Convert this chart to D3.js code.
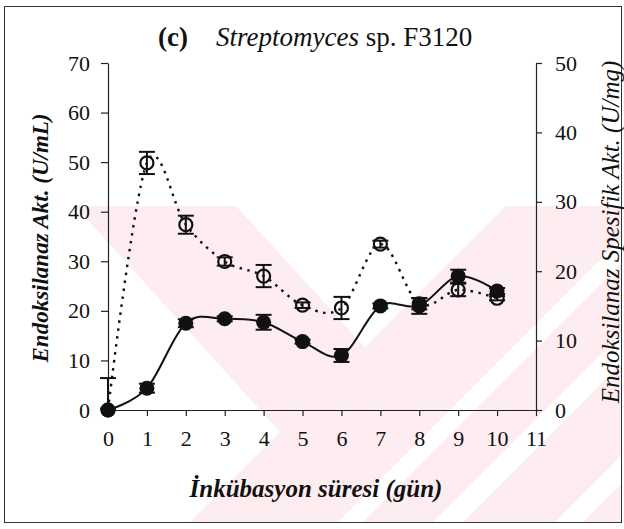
<!DOCTYPE html>
<meta charset="utf-8">
<style>
    body { margin: 0; background: #fff; }
    .axis path, .axis line { stroke: #222; stroke-width: 1.2; }
</style>
<svg width="624" height="529" font-family="'Liberation Serif', 'DejaVu Serif', serif"></svg>
<script src="https://d3js.org/d3.v7.min.js"></script>
<script>
    // incubation day
    var days = [0, 1, 2, 3, 4, 5, 6, 7, 8, 9, 10];
    // endoxylanase activity (U/mL), filled circles, left axis
    var activity    = [0, 4.4, 17.5, 18.4, 17.7, 13.8, 11.0, 21.0, 21.0, 27.0, 24.0];
    var activityErr = [0.3, 0.9, 0.8, 0.5, 1.5, 0.4, 1.3, 0.5, 1.6, 1.3, 0.6];
    // specific activity (U/mg), open circles, right axis
    var specific    = [0, 35.6, 26.7, 21.4, 19.3, 15.1, 14.7, 23.9, 15.3, 17.3, 16.1];
    var specificErr = [4.6, 1.6, 1.3, 0.6, 1.6, 0.4, 1.6, 0.5, 0.8, 0.9, 0.3];
    var xTicks = [0, 1, 2, 3, 4, 5, 6, 7, 8, 9, 10, 11];
    var leftTicks = [0, 10, 20, 30, 40, 50, 60, 70];
    var rightTicks = [0, 10, 20, 30, 40, 50];

    var svg = d3.select("svg");

    var x = d3.scaleLinear().domain([0, 11]).range([108, 536]),
        yL = d3.scaleLinear().domain([0, 70]).range([410, 63]),
        yR = d3.scaleLinear().domain([0, 50]).range([410, 63]);

    // faint pink watermark behind the chart
    var wm = svg.append("g");
    wm.append("rect").attr("x", 75).attr("y", 206).attr("width", 546).attr("height", 317).attr("fill", "#fdedf0");
    var whites = [
        [[236, 206], [506, 206], [365, 347]],
        [[75, 206], [280, 432], [189, 523], [75, 523]],
        [[621, 239], [621, 264], [362, 523], [337, 523]],
        [[621, 334], [621, 364], [462, 523], [432, 523]],
        [[621, 456], [621, 484], [582, 523], [554, 523]]
    ];
    wm.selectAll("polygon").data(whites).enter().append("polygon")
        .attr("points", function(d) { return d.join(" "); })
        .attr("fill", "#fff");

    // outer frame
    svg.append("rect").attr("x", 4.5).attr("y", 6.5).attr("width", 617).attr("height", 516)
        .attr("fill", "none").attr("stroke", "#333").attr("stroke-width", 1);

    // title
    var title = svg.append("text").attr("y", 46).attr("font-size", 27).attr("fill", "#111");
    title.append("tspan").attr("x", 158).attr("font-weight", "bold").text("(c)");
    title.append("tspan").attr("x", 216).attr("font-style", "italic").text("Streptomyces");
    title.append("tspan").text(" sp. F3120");

    // axes
    var gx = svg.append("g").attr("class", "axis").attr("transform", "translate(0,410)")
        .call(d3.axisBottom(x).tickValues(xTicks).tickSize(6).tickSizeOuter(0).tickPadding(14));
    var gl = svg.append("g").attr("class", "axis").attr("transform", "translate(108,0)")
        .call(d3.axisLeft(yL).tickValues(leftTicks).tickSize(7).tickSizeOuter(0).tickPadding(11));
    var gr = svg.append("g").attr("class", "axis").attr("transform", "translate(536,0)")
        .call(d3.axisRight(yR).tickValues(rightTicks).tickSize(6).tickSizeOuter(0).tickPadding(13));
    [gx, gl, gr].forEach(function(g) {
        g.attr("font-size", 22).attr("font-family", null);
        g.selectAll("text").attr("fill", "#111");
    });

    // axis titles
    svg.append("text")
        .attr("transform", "translate(48,238) rotate(-90)")
        .attr("text-anchor", "middle").attr("font-size", 23).attr("fill", "#111")
        .attr("font-weight", "bold").attr("font-style", "italic")
        .text("Endoksilanaz Akt. (U/mL)");
    svg.append("text")
        .attr("transform", "translate(619,232) rotate(-90)")
        .attr("text-anchor", "middle").attr("font-size", 25).attr("fill", "#111")
        .attr("font-style", "italic")
        .text("Endoksilanaz Spesifik Akt. (U/mg)");
    svg.append("text")
        .attr("x", 316).attr("y", 497)
        .attr("text-anchor", "middle").attr("font-size", 25).attr("fill", "#111")
        .attr("font-weight", "bold").attr("font-style", "italic")
        .text("İnkübasyon süresi (gün)");

    // lines
    var lineL = d3.line().curve(d3.curveCardinal.tension(0))
        .x(function(d, i) { return x(days[i]); })
        .y(function(d) { return yL(d); });
    var lineR = d3.line().curve(d3.curveCardinal.tension(0))
        .x(function(d, i) { return x(days[i]); })
        .y(function(d) { return yR(d); });

    svg.append("path").datum(specific).attr("d", lineR)
        .attr("fill", "none").attr("stroke", "#111").attr("stroke-width", 2.4)
        .attr("stroke-dasharray", "2.5,5.5");
    svg.append("path").datum(activity).attr("d", lineL)
        .attr("fill", "none").attr("stroke", "#111").attr("stroke-width", 2);

    function errorBars(vals, errs, y) {
        var g = svg.append("g").attr("stroke", "#111").attr("stroke-width", 2).attr("fill", "none");
        vals.forEach(function(v, i) {
            var cx = x(days[i]),
                top = y(v + errs[i]),
                bot = y(Math.max(0, v - errs[i]));
            g.append("line").attr("x1", cx).attr("x2", cx).attr("y1", top).attr("y2", bot);
            g.append("line").attr("x1", cx - 8).attr("x2", cx + 8).attr("y1", top).attr("y2", top);
            if (v - errs[i] > 0) {
                g.append("line").attr("x1", cx - 8).attr("x2", cx + 8).attr("y1", bot).attr("y2", bot);
            }
        });
    }

    errorBars(specific, specificErr, yR);
    svg.append("g").selectAll("circle").data(specific).enter().append("circle")
        .attr("cx", function(d, i) { return x(days[i]); })
        .attr("cy", function(d) { return yR(d); })
        .attr("r", 6.5)
        .attr("fill", "none").attr("stroke", "#111").attr("stroke-width", 2.2);

    errorBars(activity, activityErr, yL);
    svg.append("g").selectAll("circle").data(activity).enter().append("circle")
        .attr("cx", function(d, i) { return x(days[i]); })
        .attr("cy", function(d) { return yL(d); })
        .attr("r", 7.5)
        .attr("fill", "#111");
</script>
